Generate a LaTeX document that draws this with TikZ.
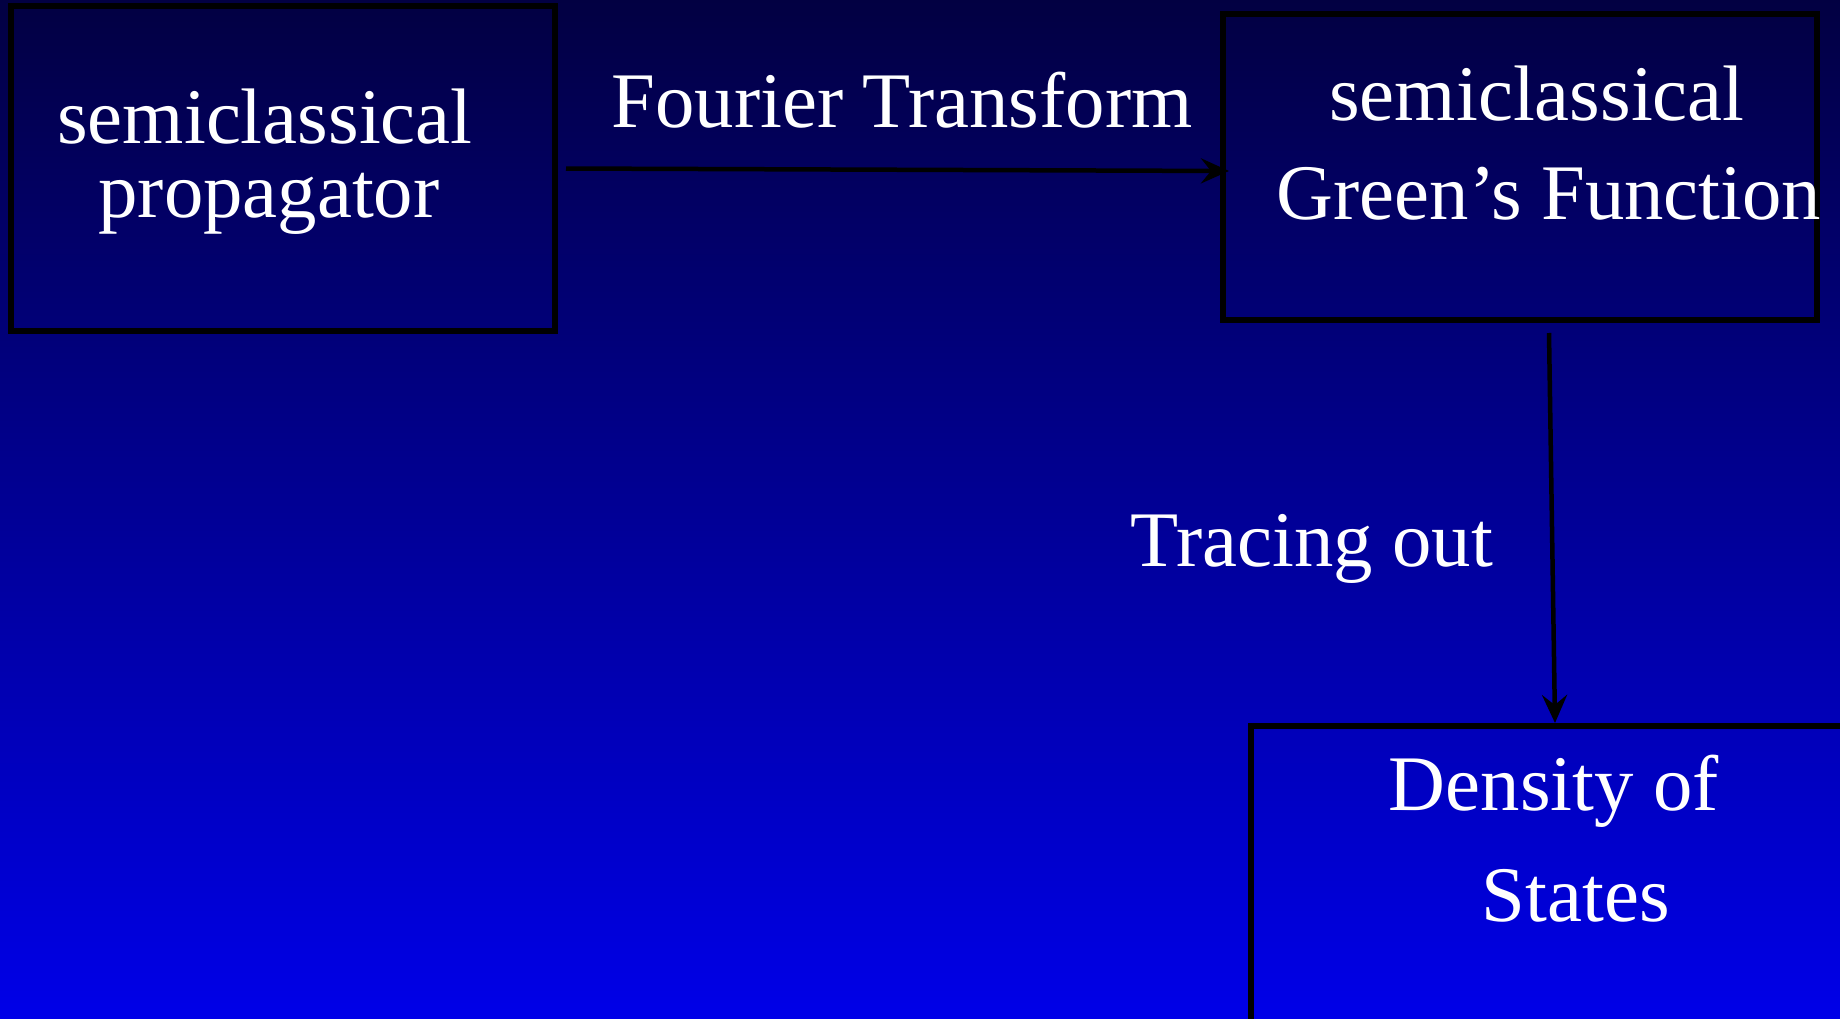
\documentclass[tikz,border=0pt]{standalone}
\usepackage{fontspec}
\setmainfont{Liberation Serif}
\usetikzlibrary{arrows.meta,calc}
\definecolor{bgtop}{RGB}{2,0,66}
\definecolor{bgbot}{RGB}{0,0,232}
\begin{document}
\begin{tikzpicture}[x=0.1mm,y=-0.1mm,
  box/.style={draw=black,line width=0.6mm,inner sep=0pt},
  lbl/.style={text=white,font=\fontsize{22.4pt}{27pt}\selectfont,inner sep=0pt,anchor=base},
  arr/.style={draw=black,line width=0.45mm,-{Stealth[length=2.8mm,width=2.5mm,inset=1mm]}}]
\useasboundingbox (0,0) rectangle (1840,1018);
\clip (0,0) rectangle (1840,1018);
\shade[top color=bgtop,bottom color=bgbot] (0,0) rectangle (1840,1018);
% boxes
\node[box,minimum width=54.4mm,minimum height=32.5mm] (b1) at (283,168.5) {};
\node[box,minimum width=59.4mm,minimum height=30.6mm] (b2) at (1520,167) {};
\node[box,minimum width=69.9mm,minimum height=37.4mm] (b3) at (1600.5,913) {};
% texts
\node[lbl] (t1a) at (265,143) {semiclassical};
\node[lbl] (t1b) at (269,217) {propagator};
\node[lbl] (ft) at (902,127) {Fourier Transform};
\node[lbl] (t2a) at (1537,120) {semiclassical};
\node[lbl] (t2b) at (1549,219) {Green’s Function};
\node[lbl] (tr) at (1312,566) {Tracing out};
\node[lbl] (t3a) at (1554,810) {Density of};
\node[lbl] (t3b) at (1576,921) {States};
% connectors
\draw[arr] ([xshift=0.8mm]b1.east) -- ([xshift=0.9mm,yshift=-0.4mm]b2.west);
\draw[arr] ([xshift=2.9mm,yshift=-1mm]b2.south) -- ([xshift=-4.55mm]b3.north);
\end{tikzpicture}
\end{document}
